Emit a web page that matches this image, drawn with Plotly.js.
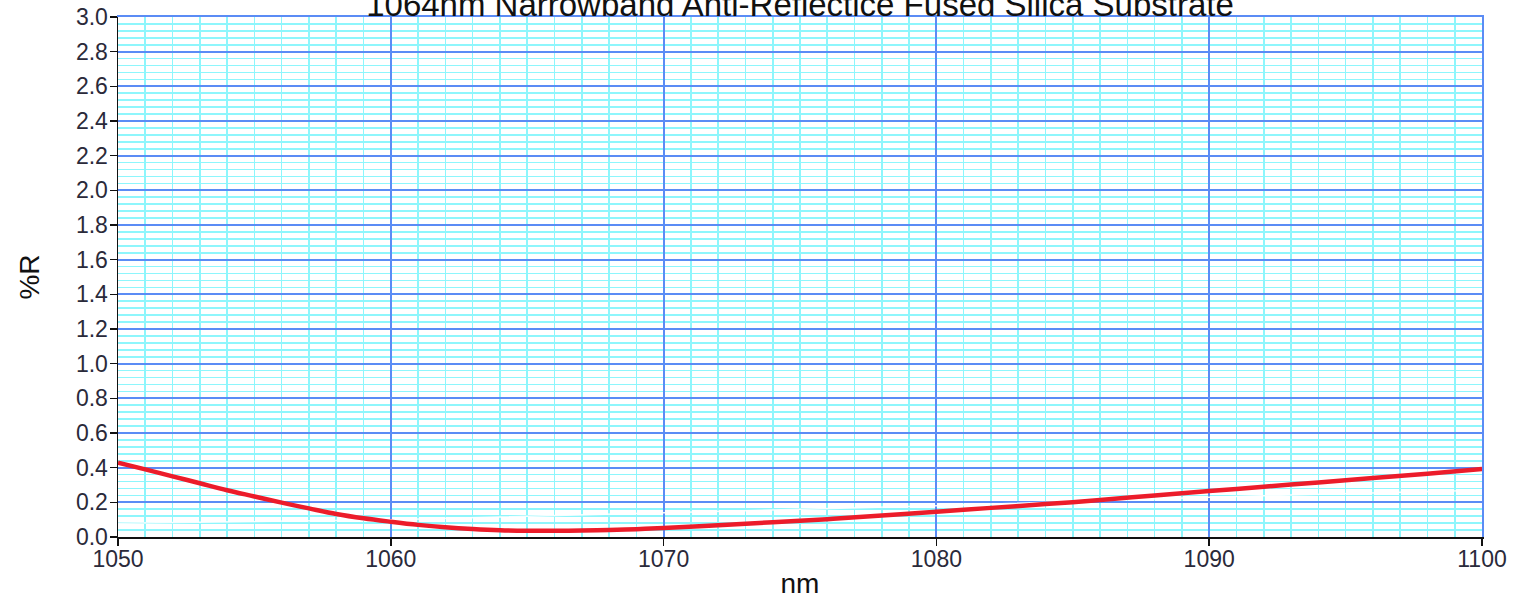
<!DOCTYPE html>
<html>
<head>
<meta charset="utf-8">
<script src="https://cdn.plot.ly/plotly-3.0.1.min.js"></script>
<style>html,body{margin:0;padding:0;background:#fff;}#chart{width:1518px;height:605px;}</style>
</head>
<body>
<div id="chart"></div>
<script>
// Wavelength (nm) and reflectance (%R)
const wavelength = [1050,1051,1052,1053,1054,1055,1056,1057,1058,1059,1060,1061,1062,1063,1064,1065,1066,1067,1068,1069,1070,1072,1074,1076,1078,1080,1082,1084,1086,1088,1090,1092,1094,1096,1098,1100];
const reflectance = [0.428,0.39,0.35,0.31,0.27,0.234,0.198,0.165,0.133,0.108,0.088,0.07,0.056,0.046,0.039,0.036,0.036,0.037,0.04,0.045,0.052,0.068,0.085,0.103,0.124,0.146,0.168,0.19,0.213,0.24,0.265,0.29,0.315,0.34,0.365,0.392];
// faint white trace visible under the grid
const faintWavelength = [1050,1060,1070,1080,1090,1100];
const faintValues = [0.08,0.10,0.14,0.18,0.23,0.27];

const titleText = "1064nm Narrowband Anti-Reflectice Fused Silica Substrate";
const xTitle = "nm";
const yTitle = "%R";

// minor grid positions (exclude those that coincide with major ticks)
const yMinor = [];
for (let k = 1; k < 75; k++) { if (k % 5 !== 0) yMinor.push(Math.round(k * 4) / 100); }
const xMinor = [];
for (let k = 1051; k < 1100; k++) { if (k % 10 !== 0) xMinor.push(k); }

const traces = [
  {x: faintWavelength, y: faintValues, mode: "lines", line: {color: "rgba(255,255,255,0.9)", width: 1.5}, hoverinfo: "skip", showlegend: false},
  {x: wavelength, y: reflectance, xaxis: "x2", yaxis: "y2", mode: "lines", line: {color: "#ec1c2a", width: 4.5, shape: "spline"}, showlegend: false}
];

const fontFam = "'Liberation Sans', Arial, sans-serif";
const layout = {
  width: 1518, height: 605,
  margin: {l: 118, r: 36, t: 17, b: 68},
  paper_bgcolor: "#ffffff", plot_bgcolor: "#ffffff",
  showlegend: false,
  title: {text: titleText, font: {family: fontFam, size: 33, color: "#111"}, x: 0.527, xanchor: "center", y: 0.993, yanchor: "middle", yref: "container"},
  xaxis: {
    range: [1050, 1100], dtick: 10, tick0: 1050,
    showgrid: true, gridcolor: "#5b8cf5", gridwidth: 2,
    minor: {tickmode: "array", tickvals: xMinor, showgrid: true, gridcolor: "#8ef6fc", gridwidth: 1.6, ticks: ""},
    showline: true, linecolor: "#111", linewidth: 1.5,
    ticks: "outside", ticklen: 7, tickcolor: "#111", tickwidth: 1.5,
    ticklabelstandoff: -6,
    tickfont: {family: fontFam, size: 23, color: "#2a2a3a"},
    zeroline: false,
    title: {text: xTitle, font: {family: fontFam, size: 28, color: "#111"}, standoff: 2}
  },
  yaxis: {
    range: [0, 3.0], dtick: 0.2, tick0: 0, tickformat: ".1f",
    showgrid: true, gridcolor: "#5b8cf5", gridwidth: 2,
    minor: {tickmode: "array", tickvals: yMinor, showgrid: true, gridcolor: "#8ef6fc", gridwidth: 1.6, ticks: ""},
    showline: true, linecolor: "#111", linewidth: 1.5,
    ticks: "outside", ticklen: 7, tickcolor: "#111", tickwidth: 1.5,
    ticklabelstandoff: -3,
    tickfont: {family: fontFam, size: 23, color: "#2a2a3a"},
    zeroline: false,
    title: {text: yTitle, font: {family: fontFam, size: 28, color: "#111"}, standoff: 28}
  },
  xaxis2: {
    overlaying: "x", side: "top", range: [1050, 1100], showgrid: false, zeroline: false,
    showticklabels: false, ticks: "", showline: true, linecolor: "#5b8cf5", linewidth: 2
  },
  yaxis2: {
    overlaying: "y", side: "right", range: [0, 3.0], showgrid: false, zeroline: false,
    showticklabels: false, ticks: "", showline: true, linecolor: "#5b8cf5", linewidth: 2
  }
};
Plotly.newPlot("chart", traces, layout, {displayModeBar: false, staticPlot: true});
</script>
</body>
</html>
